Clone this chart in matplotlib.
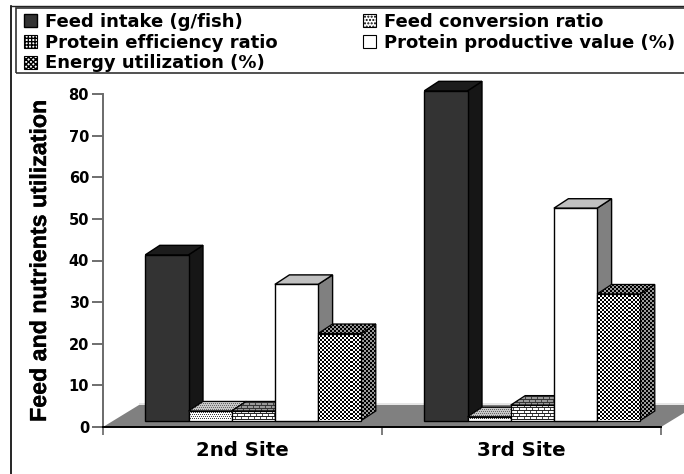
import numpy as np
import matplotlib
matplotlib.use("Agg")
import matplotlib.pyplot as plt
import matplotlib.patheffects as pe
from matplotlib.patches import Polygon, Rectangle, Patch
from matplotlib.ticker import FixedLocator, NullFormatter

categories = ["2nd Site", "3rd Site"]
series_names = ["Feed intake (g/fish)", "Feed conversion ratio", "Protein efficiency ratio",
                "Protein productive value (%)", "Energy utilization (%)"]
feed_intake = [39.8, 79.2]
feed_conversion = [2.3, 0.9]
protein_efficiency = [2.3, 3.7]
protein_productive = [32.7, 51.0]
energy_utilization = [20.9, 30.4]
y_ticks = [0, 10, 20, 30, 40, 50, 60, 70, 80]

W, H = 684, 474
AX_L, AX_R, AX_B, AX_T = 103, 661, 427, 94
plt.rcParams["font.family"] = ["DejaVu Sans"]
fig = plt.figure(figsize=(W / 100, H / 100), dpi=100, facecolor="white")
ax = fig.add_axes([AX_L / W, 1 - AX_B / H, (AX_R - AX_L) / W, (AX_B - AX_T) / H])
ax.set_xlim(-0.5, 1.5)
ax.set_ylim(0, 80)
PX = 2.0 / (AX_R - AX_L)
PY = 80.0 / (AX_B - AX_T)


def tile_canvas(tile):
    t = np.array(tile, dtype=float)
    ny = H // t.shape[0] + 1
    nx = W // t.shape[1] + 1
    return np.tile(t, (ny, nx))[:H, :W]


CHECK = [[0, 0, 1, 1], [0, 0, 1, 1], [1, 1, 0, 0], [1, 1, 0, 0]]
CHECK_D = [[0, 0, .6, .6], [0, 0, .6, .6], [.6, .6, 0, 0], [.6, .6, 0, 0]]
DOTS = [[1, 1, 1, 1], [.25, 1, .25, 1], [1, 1, 1, 1], [1, .25, 1, .25]]
DOTS_T = [[.78, .78, .78, .78], [.4, .78, .4, .78], [.78, .78, .78, .78], [.78, .4, .78, .4]]
BRICK = [[.15, .15, .15, .15, .15, .15], [1, 1, 1, .3, 1, 1], [1, 1, 1, .3, 1, 1],
         [.15, .15, .15, .15, .15, .15], [1, .3, 1, 1, 1, 1], [1, .3, 1, 1, 1, 1]]
BRICK_T = [[.2, .2, .2, .2, .2, .2], [.6, .6, .6, .25, .6, .6], [.6, .6, .6, .25, .6, .6],
           [.2, .2, .2, .2, .2, .2], [.6, .25, .6, .6, .6, .6], [.6, .25, .6, .6, .6, .6]]

series = [feed_intake, feed_conversion, protein_efficiency, protein_productive, energy_utilization]
styles = [
    dict(front="#333333", side="#161616", top="#1c1c1c"),
    dict(front=DOTS, side=DOTS_T, top=DOTS_T),
    dict(front=BRICK, side=BRICK_T, top=BRICK_T),
    dict(front="#ffffff", side="#808080", top="#c0c0c0"),
    dict(front=CHECK, side=CHECK_D, top=CHECK_D),
]

BAR_W = 43.2 * PX
DX, DY = 14.5 * PX, 9.5 * PY
BASE = 6.5 * PY
SHIFT = 10.8 * PX
FULL_EXTENT = (-0.5 - AX_L * PX, -0.5 + (W - AX_L) * PX, -(H - AX_B) * PY, AX_B * PY)

# floor
FDX, FDY = 36 * PX, 22 * PY
ax.add_patch(Polygon([(-0.5 + FDX, FDY), (1.5 + FDX, FDY), (1.5 + FDX, FDY + 2 * PY), (-0.5 + FDX, FDY + 2 * PY)],
                     closed=True, fc="#e6e6e6", ec="none", zorder=1, clip_on=False))
ax.add_patch(Polygon([(-0.5, 0), (1.5, 0), (1.5 + FDX, FDY), (-0.5 + FDX, FDY)],
                     closed=True, fc="#808080", ec="none", zorder=1.1, clip_on=False))


def face(pts, style, z):
    if isinstance(style, str):
        p = Polygon(pts, closed=True, fc=style, ec="black", lw=1.0, zorder=z, clip_on=False)
        ax.add_patch(p)
    else:
        p = Polygon(pts, closed=True, fc="white", ec="none", zorder=z, clip_on=False)
        ax.add_patch(p)
        im = ax.imshow(tile_canvas(style), cmap="gray", vmin=0, vmax=1, extent=FULL_EXTENT, origin="upper",
                       interpolation="nearest", aspect="auto", zorder=z + 0.01)
        im.set_clip_path(p)
        ax.add_patch(Polygon(pts, closed=True, fill=False, ec="black", lw=0.9, zorder=z + 0.02, clip_on=False))


z = 2.0
for i in range(len(categories)):
    for j, vals in enumerate(series):
        x0 = i + SHIFT + (j - 2.5) * BAR_W
        x1 = x0 + BAR_W
        v = vals[i]
        st = styles[j]
        top_y = BASE + v
        face([(x1, BASE), (x1 + DX, BASE + DY), (x1 + DX, top_y + DY), (x1, top_y)], st["side"], z)
        face([(x0, top_y), (x1, top_y), (x1 + DX, top_y + DY), (x0 + DX, top_y + DY)], st["top"], z + 0.1)
        front_style = st["front"]
        fc = front_style if isinstance(front_style, str) else "white"
        bar = ax.bar(x0, v, BAR_W, bottom=BASE, align="edge", color=fc,
                     edgecolor="black", linewidth=1.0, zorder=z + 0.2, clip_on=False)[0]
        if not isinstance(front_style, str):
            bar.set_edgecolor("none")
            im = ax.imshow(tile_canvas(front_style), cmap="gray", vmin=0, vmax=1, extent=FULL_EXTENT,
                           origin="upper", interpolation="nearest", aspect="auto", zorder=z + 0.21)
            im.set_clip_path(bar)
            ax.add_patch(Rectangle((x0, BASE), BAR_W, v, fill=False, ec="black", lw=0.9, zorder=z + 0.22, clip_on=False))
        z += 1

ax.set_xlim(-0.5, 1.5)
ax.set_ylim(0, 80)
ax.set_facecolor("none")
for s in ("top", "right"):
    ax.spines[s].set_visible(False)
ax.spines["left"].set_color("#6a6a6a")
ax.spines["left"].set_linewidth(1.4)
ax.spines["bottom"].set_color("black")
ax.spines["bottom"].set_linewidth(1.4)
ax.spines["left"].set_zorder(50)
ax.spines["bottom"].set_zorder(50)
ax.set_yticks(y_ticks)
ax.set_yticklabels([str(t) for t in y_ticks], fontweight="bold", fontsize=10.5)
ax.tick_params(axis="y", length=8, width=1.2, color="#555555", pad=2)
ax.set_xticks([0, 1])
ax.set_xticklabels(categories, fontweight="bold", fontsize=14.2)
ax.tick_params(axis="x", which="major", length=0, pad=10)
ax.xaxis.set_minor_locator(FixedLocator([-0.5, 0.5, 1.5]))
ax.xaxis.set_minor_formatter(NullFormatter())
ax.tick_params(axis="x", which="minor", length=6, width=1.2, color="#666666")

fig.text(39.5 / W, 1 - 262 / H, "Feed and nutrients utilization", rotation=90, ha="center", va="center",
         fontsize=16.7, fontweight="bold", family=["Liberation Sans Narrow", "Liberation Sans"],
         path_effects=[pe.withStroke(linewidth=0.25, foreground="black")])

# frames
fig.add_artist(plt.Line2D([11 / W, 11 / W], [0, 1 - 6 / H], color="black", lw=1.2))
fig.add_artist(plt.Line2D([11 / W, 1], [1 - 6 / H, 1 - 6 / H], color="#222222", lw=1.0))
fig.add_artist(Rectangle((15.5 / W, 1 - 73.5 / H), 1, 65 / H, transform=fig.transFigure, fill=False,
                         ec="#333333", lw=1.2))

handles = [Patch(fc="#333333", ec="black"),
           Patch(fc="white", ec="black", hatch="+++++", lw=0.8),
           Patch(fc="white", ec="black", hatch="xxxxxxx", lw=0.8),
           Patch(fc="white", ec="black", hatch=".....", lw=0.8),
           Patch(fc="white", ec="black", lw=0.8)]
labels = [series_names[0], series_names[2], series_names[4], series_names[1], series_names[3]]
fig.legend(handles, labels, ncol=2, frameon=False, loc="upper left",
           bbox_to_anchor=(24 / W, 1 - 13 / H), bbox_transform=fig.transFigure,
           prop=dict(weight="bold", size=13), handlelength=0.72, handleheight=0.72, handletextpad=0.45,
           columnspacing=4.72, labelspacing=0.15, borderpad=0, borderaxespad=0)

fig.savefig("out.png", dpi=100)
